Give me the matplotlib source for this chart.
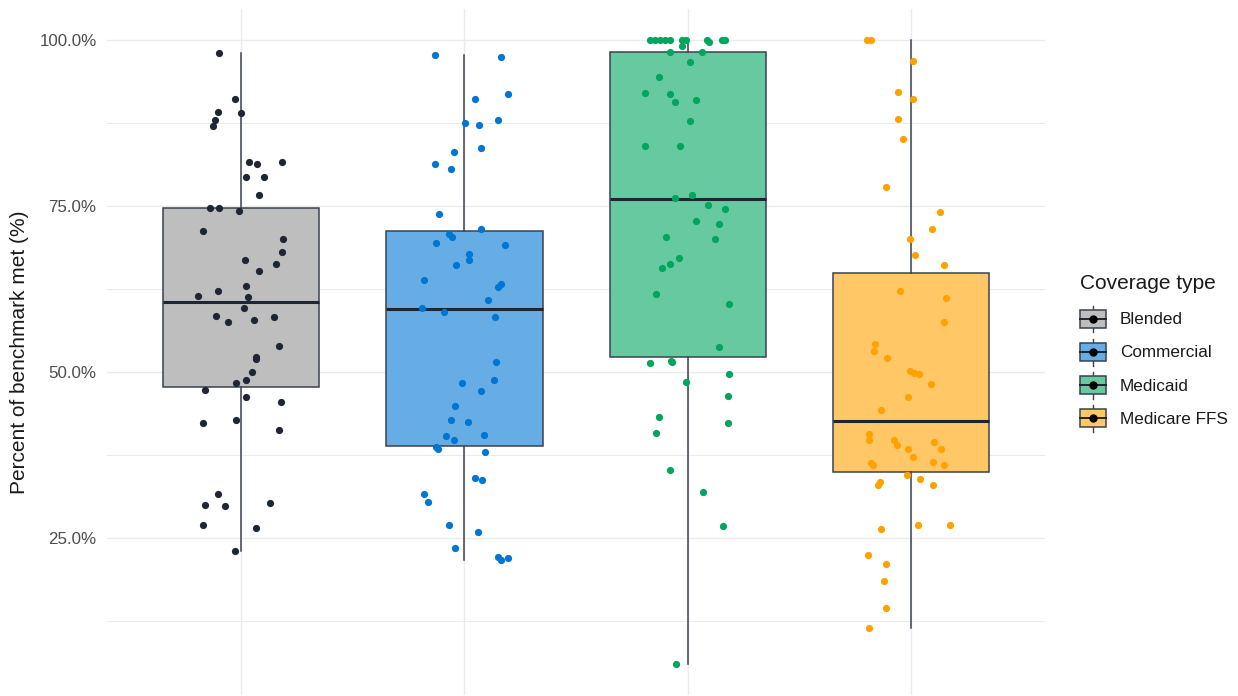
import matplotlib
matplotlib.use("Agg")
import matplotlib.pyplot as plt
from matplotlib.patches import Patch, Rectangle
from matplotlib.lines import Line2D
from matplotlib.legend_handler import HandlerBase
from matplotlib.ticker import FixedLocator, FuncFormatter

plt.rcParams["font.family"] = ["Liberation Sans", "DejaVu Sans"]

# ---- data -------------------------------------------------------------
categories = ["Blended", "Commercial", "Medicaid", "Medicare FFS"]

# box summary per coverage type (percent of benchmark met)
whisker_low = [23.0, 21.7, 6.0, 11.4]
q1_vals = [47.7, 38.8, 52.3, 35.0]
median_vals = [60.5, 59.5, 76.0, 42.6]
q3_vals = [74.7, 71.2, 98.25, 64.95]
whisker_high = [98.0, 97.8, 100.0, 100.0]

# individual plan values
blended_vals = [98.0, 91.1, 89.2, 89.0, 87.9, 87.05, 81.6, 81.4, 81.6, 79.3,
                79.3, 76.7, 74.7, 74.7, 74.25, 71.2, 70.1, 68.0, 66.9, 66.3,
                65.2, 63.0, 62.2, 61.5, 61.3, 59.6, 58.5, 57.6, 57.8, 58.3,
                53.9, 52.3, 51.9, 50.05, 48.75, 48.3, 47.3, 46.2, 45.5, 42.3,
                42.7, 41.2, 31.7, 30.0, 29.8, 30.2, 27.0, 26.5, 23.0]
commercial_vals = [97.8, 97.4, 91.1, 91.8, 87.45, 87.25, 87.9, 83.8, 83.1, 81.4,
                   80.6, 73.85, 71.5, 70.8, 70.4, 69.5, 69.1, 67.8, 66.9, 66.05,
                   63.9, 63.25, 62.8, 60.9, 59.6, 59.1, 58.3, 51.55, 48.3, 48.75,
                   47.2, 44.9, 42.7, 42.5, 40.55, 40.4, 39.7, 38.65, 38.4, 37.95,
                   34.1, 33.7, 31.7, 30.4, 27.0, 25.9, 23.5, 22.2, 21.7, 22.0]
medicaid_vals = [100, 100, 100, 100, 100, 100, 100, 100, 100, 100,
                 99.7, 99.15, 98.25, 98.25, 96.7, 94.4, 92.0, 91.8, 90.7, 90.9,
                 87.85, 84.0, 84.0, 76.65, 76.25, 75.15, 74.5, 72.8, 72.3, 70.4,
                 70.0, 67.2, 66.3, 65.7, 61.8, 60.2, 53.8, 51.35, 51.6, 51.5,
                 49.65, 48.55, 46.4, 43.2, 42.3, 40.8, 35.2, 31.9, 26.75, 6.0]
medicare_vals = [100, 100, 96.9, 92.2, 91.1, 88.1, 85.1, 77.8, 74.05, 71.5,
                 70.1, 67.6, 66.05, 62.2, 61.1, 57.6, 54.2, 53.1, 52.05, 50.1,
                 49.9, 49.65, 48.15, 46.2, 44.3, 40.6, 39.75, 39.75, 39.05, 39.5,
                 38.4, 38.4, 37.15, 36.3, 36.0, 36.5, 36.0, 34.55, 33.9, 33.4,
                 33.0, 33.05, 26.3, 26.95, 26.95, 22.4, 21.1, 18.6, 14.45, 11.4]

# horizontal jitter of each point (category units)
blended_jit = [-0.098, -0.027, -0.104, 0.0, -0.117, -0.124, 0.036, 0.07, 0.184, 0.024,
               0.101, 0.082, -0.137, -0.097, -0.009, -0.168, 0.19, 0.184, 0.018, 0.158,
               0.082, 0.024, -0.104, -0.193, 0.03, 0.012, -0.11, -0.06, 0.057, 0.146,
               0.171, 0.068, 0.068, 0.049, 0.024, -0.021, -0.162, 0.024, 0.179, -0.168,
               -0.021, 0.171, -0.104, -0.162, -0.071, 0.132, -0.168, 0.068, -0.027]
commercial_jit = [-0.131, 0.164, 0.048, 0.195, 0.003, 0.067, 0.15, 0.074, -0.048, -0.131,
                  -0.061, -0.112, 0.074, -0.067, -0.054, -0.125, 0.183, 0.022, 0.022, -0.036,
                  -0.182, 0.164, 0.15, 0.106, -0.189, -0.092, 0.138, 0.144, -0.009, 0.131,
                  0.074, -0.042, -0.061, 0.016, 0.086, -0.08, -0.048, -0.125, -0.117, 0.092,
                  0.048, 0.08, -0.182, -0.164, -0.067, 0.061, -0.042, 0.15, 0.164, 0.195]
medicaid_jit = [-0.168, -0.146, -0.124, -0.101, -0.079, -0.024, -0.009, 0.088, 0.152, 0.167,
                0.095, -0.027, -0.078, 0.062, 0.012, -0.128, -0.192, -0.078, -0.058, 0.038,
                0.012, -0.192, -0.033, 0.018, -0.058, 0.089, 0.167, 0.038, 0.14, -0.097,
                0.122, -0.039, -0.078, -0.116, -0.142, 0.184, 0.14, -0.167, -0.075, -0.07,
                0.185, -0.006, 0.179, -0.128, 0.179, -0.142, -0.078, 0.07, 0.159, -0.052]
medicare_jit = [-0.197, -0.179, 0.009, -0.057, 0.009, -0.057, -0.038, -0.114, 0.13, 0.092,
                -0.003, 0.018, 0.146, -0.051, 0.155, 0.146, -0.159, -0.166, -0.108, -0.006,
                0.015, 0.034, 0.091, -0.012, -0.134, -0.186, -0.186, -0.076, -0.063, 0.104,
                -0.012, 0.136, 0.009, -0.179, -0.172, 0.1, 0.149, -0.018, 0.04, -0.141,
                -0.147, 0.097, -0.134, 0.033, 0.175, -0.191, -0.114, -0.121, -0.114, -0.186]

y_ticks = [25, 50, 75, 100]
y_minor = [12.5, 37.5, 62.5, 87.5]

# ---- styling ----------------------------------------------------------
point_colors = ["#1E2633", "#0076D4", "#00A65E", "#FFA200"]
fill_colors = ["#BEBEBE", "#66ADE5", "#66C9A0", "#FFC766"]
edge_color = "#3A4250"
median_color = "#1E2633"
grid_color = "#EBEBEB"

W, H = 1238, 696
fig = plt.figure(figsize=(W / 100, H / 100), dpi=100)
ax = fig.add_axes([107 / W, 0.6 / H, 938 / W, 686.6 / H])

positions = list(range(1, len(categories) + 1))
stats = []
for i, name in enumerate(categories):
    stats.append(dict(label=name, whislo=whisker_low[i], q1=q1_vals[i],
                      med=median_vals[i], q3=q3_vals[i], whishi=whisker_high[i]))

bp = ax.bxp(stats, positions=positions, widths=0.7, patch_artist=True,
            showcaps=False, showfliers=False,
            boxprops=dict(edgecolor=edge_color, linewidth=1.1),
            whiskerprops=dict(color=edge_color, linewidth=1.1),
            medianprops=dict(color=median_color, linewidth=2.2, solid_capstyle="butt"),
            zorder=2)
for patch, fc in zip(bp["boxes"], fill_colors):
    patch.set_facecolor(fc)

groups = [(blended_vals, blended_jit), (commercial_vals, commercial_jit),
          (medicaid_vals, medicaid_jit), (medicare_vals, medicare_jit)]
for pos, (vals, jit), col in zip(positions, groups, point_colors):
    xs = [pos + j for j in jit]
    ax.scatter(xs, vals, s=27, color=col, linewidths=0, zorder=3)

# axes, grid
ax.set_xlim(0.4, 4.6)
ax.set_ylim(1.3, 104.7)
ax.yaxis.set_major_locator(FixedLocator(y_ticks))
ax.yaxis.set_minor_locator(FixedLocator(y_minor))
ax.yaxis.set_major_formatter(FuncFormatter(lambda v, _: f"{v:.1f}%"))
ax.set_xticks(positions)
ax.set_xticklabels([])
ax.grid(True, which="major", color=grid_color, linewidth=1.0, zorder=0)
ax.grid(True, which="minor", axis="y", color=grid_color, linewidth=0.7, zorder=0)
ax.set_axisbelow(True)
ax.tick_params(which="both", length=0)
ax.tick_params(axis="y", labelsize=12.2, labelcolor="#4D4D4D", pad=7.5)
for sp in ax.spines.values():
    sp.set_visible(False)

ax.set_ylabel("Percent of benchmark met (%)", fontsize=15, color="#1A1A1A", va="center")
ax.yaxis.set_label_coords(-(107 - 20) / 938, 0.5)


# legend keys drawn as small box-and-whisker glyphs with a point
class BoxKeyHandler(HandlerBase):
    def create_artists(self, legend, orig_handle, xdescent, ydescent,
                       width, height, fontsize, trans):
        x0, y0 = -xdescent, -ydescent
        cx, cy = x0 + width / 2, y0 + height / 2
        bh = height * 0.66
        whisk = Line2D([cx, cx], [y0, y0 + height], color=edge_color,
                       linewidth=1.0, transform=trans)
        box = Rectangle((x0, cy - bh / 2), width, bh,
                        facecolor=orig_handle.get_facecolor(),
                        edgecolor=edge_color, linewidth=1.1, transform=trans)
        med = Line2D([x0, x0 + width], [cy, cy], color=median_color,
                     linewidth=1.4, transform=trans)
        dot = Line2D([cx], [cy], marker="o", markersize=5, color="black",
                     linestyle="none", transform=trans)
        return [whisk, box, med, dot]


handles = [Patch(facecolor=fc, edgecolor=edge_color) for fc in fill_colors]
leg = ax.legend(handles, categories, title="Coverage type",
                handler_map={Patch: BoxKeyHandler()},
                loc="upper left", bbox_to_anchor=(1080 / W, 1 - 274 / H),
                bbox_transform=fig.transFigure, frameon=False,
                fontsize=12.3, title_fontsize=15, alignment="left",
                handlelength=1.52, handleheight=2.05, labelspacing=0.36,
                handletextpad=0.82, borderpad=0, borderaxespad=0)
leg._legend_box.sep = 9
for t in leg.get_texts():
    t.set_color("#1A1A1A")
leg.get_title().set_color("#1A1A1A")

fig.savefig("out.png", dpi=100, facecolor="white")
